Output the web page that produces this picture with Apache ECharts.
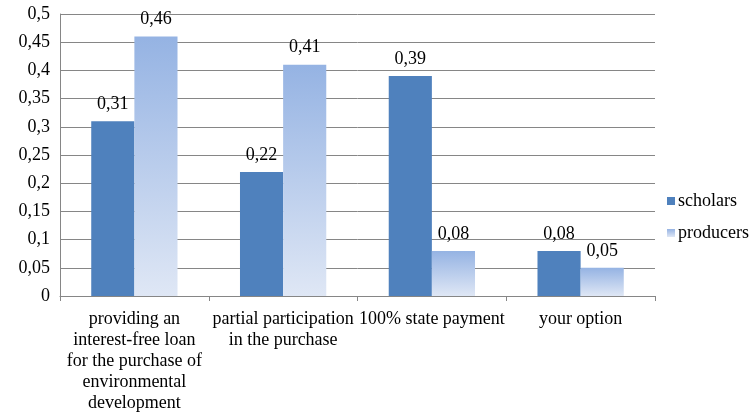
<!DOCTYPE html>
<html>
<head>
<meta charset="utf-8">
<script src="https://cdn.jsdelivr.net/npm/echarts@6/dist/echarts.min.js"></script>
<style>
  html, body { margin: 0; padding: 0; background: #fff; }
  #main { width: 750px; height: 414px; }
</style>
</head>
<body>
<div id="main"></div>
<script>
var chartDom = document.getElementById('main');
var myChart = echarts.init(chartDom);
var option;

// Datos
var categories = [
    'providing an\ninterest-free loan\nfor the purchase of\nenvironmental\ndevelopment',
    'partial participation\nin the purchase',
    '100% state payment',
    'your option'
];
var scholars = [0.31, 0.22, 0.39, 0.08];
var producers = [0.46, 0.41, 0.08, 0.05];

var font = '"Liberation Serif", "Times New Roman", serif';
var comma = function (v) { return String(v).replace('.', ','); };

var producersColor = new echarts.graphic.LinearGradient(0, 0, 0, 1, [
    { offset: 0, color: '#95b3e3' },
    { offset: 1, color: '#dfe7f5' }
]);

option = {
    animation: false,
    textStyle: { fontFamily: font },
    legend: {
        orient: 'vertical',
        left: 662,
        top: 187,
        itemWidth: 8,
        itemHeight: 8,
        itemGap: 14,
        icon: 'rect',
        textStyle: { fontFamily: font, fontSize: 18, color: '#000', padding: [0, 0, 0, -2] },
        data: ['scholars', 'producers']
    },
    grid: {
        left: 60,
        right: 95,
        top: 14,
        bottom: 117
    },
    xAxis: {
        type: 'category',
        data: categories,
        axisLine: { lineStyle: { color: '#868686' } },
        axisTick: { show: true, length: 5, lineStyle: { color: '#868686' } },
        axisLabel: {
            interval: 0,
            color: '#000',
            fontFamily: font,
            fontSize: 18,
            lineHeight: 21,
            margin: 13
        }
    },
    yAxis: {
        type: 'value',
        min: 0,
        max: 0.5,
        interval: 0.05,
        axisLine: { show: true, lineStyle: { color: '#868686' } },
        axisTick: { show: false },
        splitLine: { lineStyle: { color: '#868686' } },
        axisLabel: {
            color: '#000',
            fontFamily: font,
            fontSize: 18,
            margin: 10,
            formatter: function (v) { return comma(Math.round(v * 100) / 100); }
        }
    },
    series: [
        {
            name: 'scholars',
            type: 'bar',
            data: scholars,
            barGap: '0%',
            barCategoryGap: '42%',
            itemStyle: { color: '#4f81bd' },
            label: {
                show: true,
                position: 'top',
                distance: 8,
                color: '#000',
                fontFamily: font,
                fontSize: 18,
                formatter: function (p) { return comma(p.value); }
            }
        },
        {
            name: 'producers',
            type: 'bar',
            data: producers,
            itemStyle: { color: producersColor },
            label: {
                show: true,
                position: 'top',
                distance: 8,
                color: '#000',
                fontFamily: font,
                fontSize: 18,
                formatter: function (p) { return comma(p.value); }
            }
        }
    ]
};

option && myChart.setOption(option);
</script>
</body>
</html>
